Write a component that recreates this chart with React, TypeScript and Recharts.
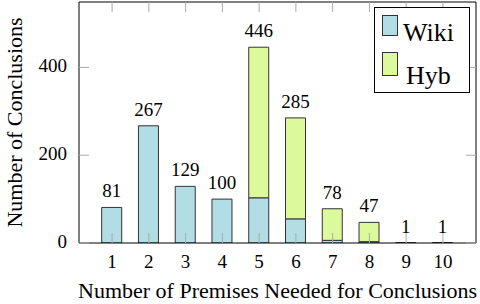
import React from 'react';
import { BarChart, Bar, XAxis, YAxis, LabelList } from 'recharts';

const premises = [1, 2, 3, 4, 5, 6, 7, 8, 9, 10];
const wikiCounts = [81, 267, 129, 100, 103, 55, 6, 3, 1, 1];
const hybCounts = [0, 0, 0, 0, 343, 230, 72, 44, 0, 0];
const yTicks = [0, 200, 400];

const WIKI_COLOR = '#b2dde4';
const HYB_COLOR = '#dcf99c';
const FONT = '"Liberation Serif", "DejaVu Serif", serif';

// total goes on whichever segment is the top of the stack
const data = premises.map((p, i) => {
  const total = wikiCounts[i] + hybCounts[i];
  return {
    premises: p,
    wiki: wikiCounts[i],
    hyb: hybCounts[i],
    wikiTop: hybCounts[i] === 0 ? total : null,
    hybTop: hybCounts[i] > 0 ? total : null,
  };
});

const legendItems = [
  { name: 'Wiki', color: WIKI_COLOR },
  { name: 'Hyb', color: HYB_COLOR },
];

const textStyle = { fontFamily: FONT, fill: '#000' };

const XTick = ({ x, y, payload }: any) => (
  <text x={x} y={y} dy={25} textAnchor="middle" fontSize={19} style={textStyle}>
    {payload.value}
  </text>
);

const YTick = ({ x, y, payload }: any) => (
  <text x={x} y={y} dy={5} textAnchor="end" fontSize={19} style={textStyle}>
    {payload.value}
  </text>
);

const TotalLabel = ({ x, y, width, value }: any) => {
  if (value === null || value === undefined) return null;
  return (
    <text x={x + width / 2} y={y - 10} textAnchor="middle" fontSize={19} style={textStyle}>
      {value}
    </text>
  );
};

const Legend = () => (
  <svg width={480} height={304} style={{ position: 'absolute', left: 0, top: 0, pointerEvents: 'none' }}>
    <rect x={374.5} y={7.5} width={95} height={85} fill="#fff" stroke="#000" strokeWidth={1} />
    {legendItems.map((item, i) => (
      <g key={item.name}>
        <rect
          x={382.5}
          y={i === 0 ? 15.5 : 52.5}
          width={15}
          height={i === 0 ? 20 : 23}
          fill={item.color}
          stroke="#333"
          strokeWidth={1}
        />
        <text x={i === 0 ? 403 : 406} y={i === 0 ? 41 : 84} fontSize={26} style={textStyle}>
          {item.name}
        </text>
      </g>
    ))}
  </svg>
);

const App: React.FC = () => {
  return (
    <div style={{ position: 'absolute', left: 0, top: 0, width: 480, height: 304, background: '#fff' }}>
      <BarChart width={480} height={304} data={data} margin={{ top: 2, right: 4, bottom: 0, left: 0 }}>
        <XAxis
          dataKey="premises"
          type="number"
          domain={[0.1, 10.9]}
          ticks={premises}
          allowDataOverflow
          height={61}
          tickLine={false}
          tickSize={0}
          tickMargin={0}
          tick={<XTick />}
          axisLine={{ stroke: '#000', strokeWidth: 1 }}
          label={{
            content: ({ viewBox }: any) => (
              <text
                x={viewBox.x + viewBox.width / 2}
                y={viewBox.y + 55}
                textAnchor="middle"
                fontSize={22}
                style={textStyle}
              >
                Number of Premises Needed for Conclusions
              </text>
            ),
          }}
        />
        <XAxis
          xAxisId="bottomTicks"
          dataKey="premises"
          type="number"
          domain={[0.1, 10.9]}
          ticks={premises}
          allowDataOverflow
          mirror
          tickSize={10}
          tickLine={{ stroke: '#aaa' }}
          tickFormatter={() => ''}
          axisLine={false}
        />
        <XAxis
          xAxisId="top"
          orientation="top"
          dataKey="premises"
          type="number"
          domain={[0.1, 10.9]}
          ticks={premises}
          allowDataOverflow
          mirror
          tickSize={10}
          tickLine={{ stroke: '#aaa' }}
          tickFormatter={() => ''}
          axisLine={{ stroke: '#000', strokeWidth: 1 }}
        />
        <YAxis
          type="number"
          domain={[0, 549]}
          ticks={yTicks}
          allowDataOverflow
          width={79}
          tickLine={false}
          tickSize={0}
          tickMargin={12}
          tick={<YTick />}
          axisLine={{ stroke: '#000', strokeWidth: 1 }}
          label={{
            content: ({ viewBox }: any) => {
              const cx = viewBox.x + 22;
              const cy = viewBox.y + viewBox.height / 2;
              return (
                <text
                  x={cx}
                  y={cy}
                  transform={`rotate(-90, ${cx}, ${cy})`}
                  textAnchor="middle"
                  fontSize={22}
                  style={textStyle}
                >
                  Number of Conclusions
                </text>
              );
            },
          }}
        />
        <YAxis
          yAxisId="leftTicks"
          type="number"
          domain={[0, 549]}
          ticks={yTicks}
          allowDataOverflow
          mirror
          tickSize={10}
          tickLine={{ stroke: '#aaa' }}
          tickFormatter={() => ''}
          axisLine={false}
        />
        <YAxis
          yAxisId="right"
          orientation="right"
          type="number"
          domain={[0, 549]}
          ticks={yTicks}
          allowDataOverflow
          mirror
          tickSize={10}
          tickLine={{ stroke: '#aaa' }}
          tickFormatter={() => ''}
          axisLine={{ stroke: '#000', strokeWidth: 1 }}
        />
        <Bar dataKey="wiki" stackId="a" fill={WIKI_COLOR} stroke="#333" strokeWidth={1} barSize={20} isAnimationActive={false}>
          <LabelList dataKey="wikiTop" content={<TotalLabel />} />
        </Bar>
        <Bar dataKey="hyb" stackId="a" fill={HYB_COLOR} stroke="#333" strokeWidth={1} barSize={20} isAnimationActive={false}>
          <LabelList dataKey="hybTop" content={<TotalLabel />} />
        </Bar>
      </BarChart>
      <Legend />
    </div>
  );
};

export default App;
